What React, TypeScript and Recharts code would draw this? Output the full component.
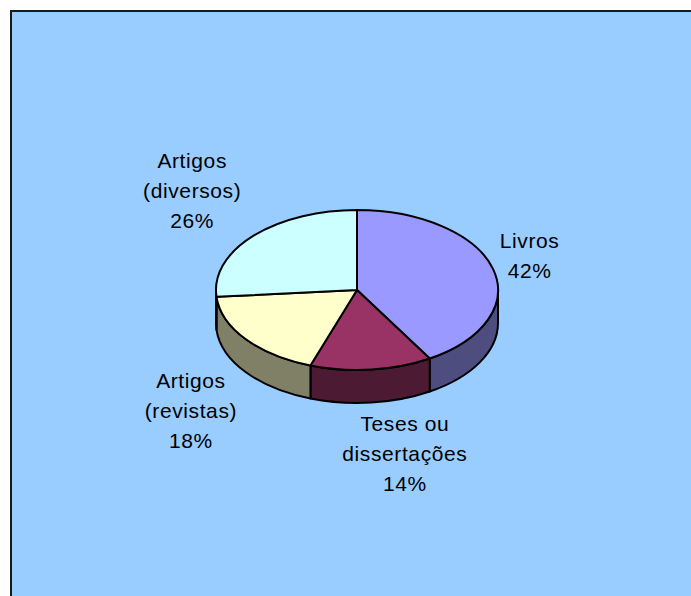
import React from "react";
import { PieChart, Pie } from "recharts";

const categories = [["Livros"], ["Teses ou", "dissertações"], ["Artigos", "(revistas)"], ["Artigos", "(diversos)"]];
const shares = [42, 14, 18, 26];
const topColors = ["#9999FF", "#993366", "#FFFFCC", "#CCFFFF"];
const sideColors = ["#4D4D80", "#4D1A33", "#808066", "#668080"];

const rows = categories.map((lines, i) => ({
  name: lines.join(" "),
  lines,
  value: shares[i],
  fill: topColors[i],
  sideFill: sideColors[i],
}));

const W = 691;
const H = 596;
const CX = 357;
const CY = 290;
const RX = 141;
const TILT = 80 / 141;
const DEPTH = 33;
const LINE_H = 30;
// Label block centre, relative to the rim point at the slice's mid angle.
const LABEL_SHIFT = [
  [36, -15],
  [39, 84],
  [-52, 73],
  [-62, -45],
];

const RAD = Math.PI / 180;
// The tilted 3D view pulls the lower rim slightly towards the right.
const warp = (deg: number) => deg + 1.2 * (1 - Math.sin(deg * RAD));
const rim = (cx: number, cy: number, r: number, deg: number) => [
  cx + r * Math.cos(deg * RAD),
  cy - r * TILT * Math.sin(deg * RAD),
];

const TopSlice = (p: any) => {
  const { cx, cy, outerRadius: r, startAngle, endAngle, fill } = p;
  const a = warp(startAngle);
  const b = warp(endAngle);
  const [x0, y0] = rim(cx, cy, r, a);
  const [x1, y1] = rim(cx, cy, r, b);
  const large = Math.abs(a - b) > 180 ? 1 : 0;
  return (
    <path
      d={`M${cx},${cy}L${x0},${y0}A${r},${r * TILT} 0 ${large} 1 ${x1},${y1}Z`}
      fill={fill}
      stroke="#000"
      strokeWidth={2}
      strokeLinejoin="round"
    />
  );
};

const SideSlice = (p: any) => {
  const { cx, cy, outerRadius: r, startAngle, endAngle } = p;
  const side = p.sideFill ?? p.payload?.sideFill;
  const a = Math.min(warp(startAngle), 0);
  const b = Math.max(warp(endAngle), -180);
  if (a <= b) return <g />;
  const [x0, y0] = rim(cx, cy, r, a);
  const [x1, y1] = rim(cx, cy, r, b);
  const ry = r * TILT;
  return (
    <path
      d={`M${x0},${y0}A${r},${ry} 0 0 1 ${x1},${y1}L${x1},${y1 + DEPTH}A${r},${ry} 0 0 0 ${x0},${y0 + DEPTH}Z`}
      fill={side}
      stroke="#000"
      strokeWidth={2}
      strokeLinejoin="round"
    />
  );
};

const SliceLabel = (p: any) => {
  const { cx, cy, outerRadius: r, midAngle, index } = p;
  const [mx, my] = rim(cx, cy, r, midAngle);
  const row = rows[index];
  const texts = [...row.lines, `${row.value}%`];
  const x = mx + LABEL_SHIFT[index][0];
  const top = my + LABEL_SHIFT[index][1] - ((texts.length - 1) * LINE_H) / 2;
  return (
    <text
      textAnchor="middle"
      fontFamily="'Liberation Sans', Arial, sans-serif"
      fontSize={21}
      letterSpacing={0.6}
      fill="#000"
    >
      {texts.map((t, i) => (
        <tspan key={i} x={x} y={top + i * LINE_H} dominantBaseline="central">
          {t}
        </tspan>
      ))}
    </text>
  );
};

export default function App() {
  return (
    <div style={{ position: "fixed", left: 0, top: 0, width: W, height: H, overflow: "hidden", background: "#fff" }}>
      <div
        style={{
          position: "absolute",
          left: 10,
          top: 10,
          width: W + 20,
          height: H + 20,
          boxSizing: "border-box",
          background: "#99CCFF",
          border: "2px solid #1a1a1a",
        }}
      />
      <div style={{ position: "absolute", left: 0, top: 0 }}>
        <PieChart width={W} height={H} margin={{ top: 0, right: 0, bottom: 0, left: 0 }}>
          <Pie
            data={rows}
            dataKey="value"
            nameKey="name"
            cx={CX}
            cy={CY}
            innerRadius={0}
            outerRadius={RX}
            startAngle={90}
            endAngle={-270}
            paddingAngle={0}
            shape={SideSlice}
            isAnimationActive={false}
            legendType="none"
          />
          <Pie
            data={rows}
            dataKey="value"
            nameKey="name"
            cx={CX}
            cy={CY}
            innerRadius={0}
            outerRadius={RX}
            startAngle={90}
            endAngle={-270}
            paddingAngle={0}
            shape={TopSlice}
            label={SliceLabel}
            labelLine={false}
            isAnimationActive={false}
            legendType="none"
          />
        </PieChart>
      </div>
    </div>
  );
}
